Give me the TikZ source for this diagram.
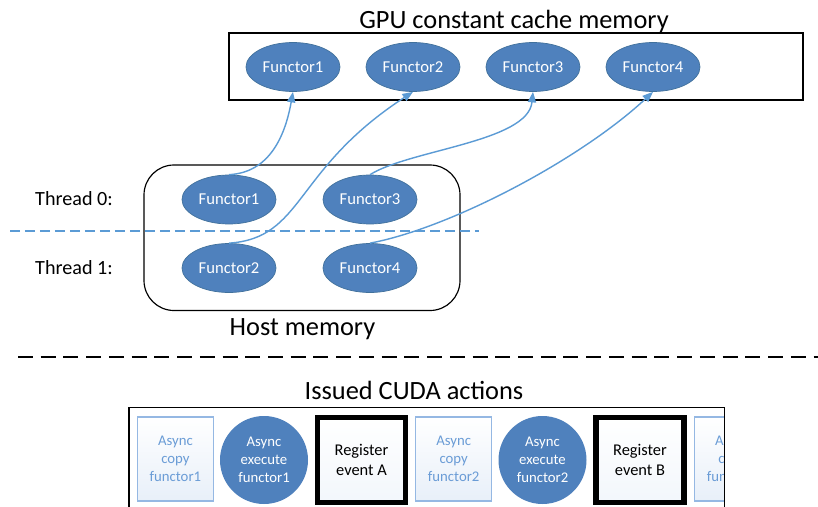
\documentclass[tikz,border=0pt]{standalone}
\usepackage{fontspec}
\setmainfont{Carlito}
\usetikzlibrary{arrows.meta,shapes.geometric}

\definecolor{fblue}{HTML}{4F81BD}
\definecolor{fedge}{HTML}{41719C}
\definecolor{lblue}{HTML}{5B9BD5}
\definecolor{pale}{HTML}{95B8E3}
\definecolor{paletext}{HTML}{6A9CD6}

\tikzset{
  heading/.style={anchor=base,font=\fontsize{22.5}{27}\selectfont},
  thread/.style={font=\fontsize{17.2}{20}\selectfont},
  functor/.style={ellipse,fill=fblue,draw=fedge,line width=0.6pt,text=white,
    minimum width=2.82cm,minimum height=1.47cm,inner sep=0pt,
    font=\fontsize{14.2}{17}\selectfont},
  copybox/.style={rectangle,draw=pale,line width=0.9pt,top color=white,
    bottom color=pale!22,minimum width=2.28cm,minimum height=2.52cm,
    text=paletext,align=center,font=\fontsize{12.6}{15.6}\selectfont},
  execnode/.style={circle,fill=fblue,minimum size=2.64cm,inner sep=0pt,
    text=white,align=center,font=\fontsize{12.6}{15.6}\selectfont},
  eventbox/.style={rectangle,draw=black,line width=4.3pt,top color=white,
    bottom color=pale!12,minimum width=2.64cm,minimum height=2.55cm,
    align=center,font=\fontsize{14}{16.8}\selectfont},
  flow/.style={draw=lblue,line width=1.2pt,-{Triangle[length=9pt,width=7pt]}}
}

\begin{document}
\begin{tikzpicture}[x=0.03cm,y=-0.03cm]
\useasboundingbox[fill=white] (0,0) rectangle (818,506);

% constant cache on the device
\node[heading] (gputitle) at (514,29) {GPU constant cache memory};
\draw[line width=1pt] (229,33) rectangle (803,100);
\node[functor] (g1) at (293,67) {Functor1};
\node[functor] (g2) at (413,67) {Functor2};
\node[functor] (g3) at (533,67) {Functor3};
\node[functor] (g4) at (653,67) {Functor4};

% host side, one row per thread
\draw[line width=1pt,rounded corners=0.9cm] (144,165) rectangle (460,310.5);
\node[thread] (t0) at (74,199) {Thread 0:};
\node[thread] (t1) at (74,268) {Thread 1:};
\node[functor] (h1) at (229,199.5) {Functor1};
\node[functor] (h3) at (370,199.5) {Functor3};
\node[functor] (h2) at (229,268) {Functor2};
\node[functor] (h4) at (370,268) {Functor4};
\draw[lblue,line width=1.2pt,dash pattern=on 8.5pt off 4.3pt] (10,231) -- (479,231);
\node[heading] (hosttitle) at (302.5,335) {Host memory};

% copies to constant memory
\draw[flow] (h1.north) .. controls +(40,-2) and +(-8,45) .. (g1.south);
\draw[flow] (h2.north) .. controls +(75,-5) and +(-120,78) .. (g2.south);
\draw[flow] (h3.north) .. controls +(40,-25) and +(-5,50) .. (g3.south);
\draw[flow] (h4.north) .. controls +(80,-15) and +(-73,68) .. (g4.south);

\draw[line width=1.7pt,dash pattern=on 12.8pt off 6.6pt] (18,356.7) -- (818,356.7);

% stream of issued actions
\node[heading] (cudatitle) at (414,399) {Issued CUDA actions};
\begin{scope}
\clip (129,407.7) rectangle (724.5,520);
\node[copybox] (c1) at (175.4,459) {Async\\copy\\functor1};
\node[execnode] (e1) at (264,460) {Async\\execute\\functor1};
\node[eventbox] (evA) at (361.5,460) {Register\\event A};
\node[copybox] (c2) at (453.7,459) {Async\\copy\\functor2};
\node[execnode] (e2) at (542.5,460) {Async\\execute\\functor2};
\node[eventbox] (evB) at (640,460) {Register\\event B};
\node[copybox] (c3) at (732.5,459) {Async\\copy\\functor3};
\end{scope}
\draw[line width=1pt] (129,520) -- (129,407.7) -- (724.5,407.7) -- (724.5,520);
\end{tikzpicture}
\end{document}
